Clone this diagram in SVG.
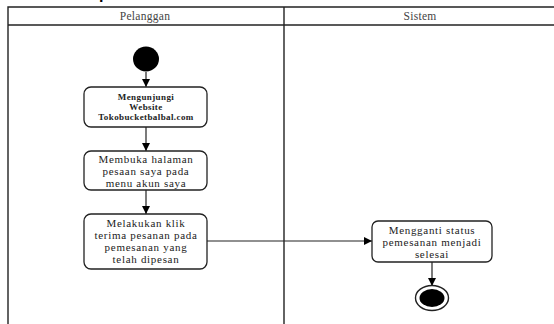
<svg xmlns="http://www.w3.org/2000/svg" width="554" height="324" viewBox="0 0 554 324">
  <defs>
    <marker id="arrow" viewBox="0 0 10 10" refX="10" refY="5" markerWidth="8" markerHeight="8" orient="auto" markerUnits="userSpaceOnUse">
      <path d="M0,0 L10,5 L0,10 z" fill="#000"/>
    </marker>
    <style>
      .lane { stroke: #222; stroke-width: 1.4; fill: none; }
      .head { font-family: "Liberation Serif", serif; font-size: 11.5px; letter-spacing: 0.3px; fill: #444; text-anchor: middle; }
      .box { fill: #fff; stroke: #222; stroke-width: 1.3; }
      .t { font-family: "Liberation Serif", serif; font-size: 11px; letter-spacing: 0.7px; fill: #222; text-anchor: middle; }
      .tb { font-family: "Liberation Serif", serif; font-size: 9px; letter-spacing: 0.4px; font-weight: bold; fill: #222; text-anchor: middle; }
      .edge { stroke: #222; stroke-width: 1.2; fill: none; marker-end: url(#arrow); }
    </style>
  </defs>
  <rect width="554" height="324" fill="#fff"/>
  <text x="99" y="-1" font-family="Liberation Sans, sans-serif" font-size="16" font-weight="bold" fill="#000">p</text>

  <!-- swimlane frame -->
  <g id="lanes">
    <path class="lane" d="M8,324 V7 H554"/>
    <path class="lane" d="M8,25 H554"/>
    <path class="lane" d="M284,7 V324"/>
    <text class="head" x="145" y="20">Pelanggan</text>
    <text class="head" x="420" y="20">Sistem</text>
  </g>

  <!-- connectors -->
  <g id="connectors">
    <line class="edge" x1="146" y1="72" x2="146" y2="87"/>
    <line class="edge" x1="146" y1="127" x2="146" y2="151"/>
    <line class="edge" x1="146" y1="190" x2="146" y2="214"/>
    <line class="edge" x1="207" y1="241" x2="372" y2="241"/>
    <line class="edge" x1="432" y1="262" x2="432" y2="286"/>
  </g>

  <g id="start">
    <ellipse cx="146" cy="59" rx="13" ry="12.5" fill="#000"/>
  </g>

  <g id="visit-website">
    <rect class="box" x="84" y="87" width="123" height="40" rx="7"/>
    <text class="tb" x="146" y="100">Mengunjungi</text>
    <text class="tb" x="146" y="110">Website</text>
    <text class="tb" x="146" y="120">Tokobucketbalbal.com</text>
  </g>

  <g id="open-orders">
    <rect class="box" x="84" y="151" width="123" height="39" rx="7"/>
    <text class="t" x="146" y="163">Membuka halaman</text>
    <text class="t" x="146" y="175">pesaan saya pada</text>
    <text class="t" x="146" y="187">menu akun saya</text>
  </g>

  <g id="accept-order">
    <rect class="box" x="84" y="214" width="123" height="55" rx="7"/>
    <text class="t" x="146" y="227">Melakukan klik</text>
    <text class="t" x="146" y="239">terima pesanan pada</text>
    <text class="t" x="146" y="251">pemesanan yang</text>
    <text class="t" x="146" y="263">telah dipesan</text>
  </g>

  <g id="update-status">
    <rect class="box" x="372" y="221" width="120" height="41" rx="6"/>
    <text class="t" x="432" y="234">Mengganti status</text>
    <text class="t" x="432" y="246">pemesanan menjadi</text>
    <text class="t" x="432" y="258">selesai</text>
  </g>

  <g id="end">
    <ellipse cx="432" cy="298" rx="16.5" ry="12.5" fill="#fff" stroke="#222" stroke-width="1.4"/>
    <ellipse cx="432" cy="298" rx="12.5" ry="9" fill="#000"/>
  </g>
</svg>
